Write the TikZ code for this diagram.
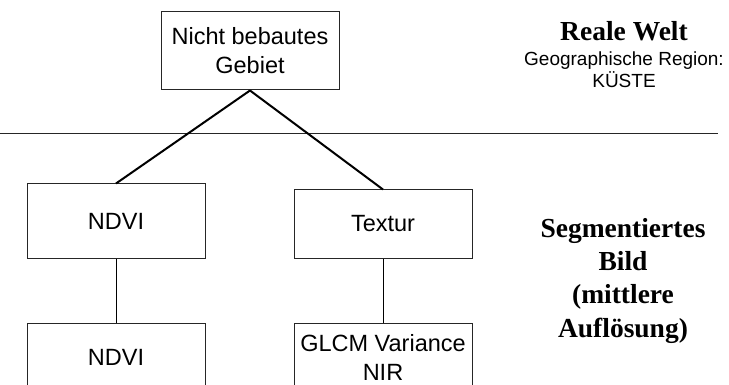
\documentclass[tikz,border=0pt]{standalone}
\usepackage{fontspec}
\setmainfont{Liberation Sans}
\newfontfamily\timesfont{Liberation Serif}
\begin{document}
\begin{tikzpicture}[x=1pt,y=-1pt,
  box/.style={draw=black!85, line width=1pt, minimum width=178pt, inner sep=0pt,
    align=center, font=\fontsize{23.5}{29}\selectfont},
  mainlink/.style={line width=2pt, black},
  sublink/.style={line width=1pt, black},
  sep/.style={line width=1pt, black!85},
  bigtitle/.style={anchor=base, inner sep=0pt, font=\timesfont\bfseries\fontsize{27.5}{33}\selectfont},
  smalllabel/.style={anchor=base, inner sep=0pt, font=\fontsize{19}{21}\selectfont}]
\useasboundingbox (0,0) rectangle (729,385);
\clip (0,0) rectangle (729,385);
\node[box, minimum height=78pt] (top) at (250,51) {Nicht bebautes\\Gebiet};
\node[box, minimum height=74pt] (ndvi1) at (116,221) {NDVI};
\node[box, minimum height=68pt] (textur) at (383,224) {Textur};
\node[box, minimum height=69pt] (ndvi2) at (116,357.5) {NDVI};
\node[box, minimum height=69pt] (glcm) at (383,357.5) {GLCM Variance\\NIR};
\coordinate (hl) at (0,134);
\coordinate (hr) at (718,134);
\draw[sep] (hl) -- (hr);
\draw[mainlink] (top.south) -- (ndvi1.north);
\draw[mainlink] (top.south) -- (textur.north);
\draw[sublink] (ndvi1.south) -- (ndvi2.north);
\draw[sublink] (textur.south) -- (glcm.north);
\node[bigtitle] (reale) at (624,41) {Reale Welt};
\node[smalllabel] (geo) at (624,66) {Geographische Region:};
\node[smalllabel] (kueste) at (624,88) {KÜSTE};
\node[bigtitle] (seg1) at (623,237) {Segmentiertes};
\node[bigtitle] (seg2) at (623,270) {Bild};
\node[bigtitle] (seg3) at (623,303) {(mittlere};
\node[bigtitle] (seg4) at (623,337) {Auflösung)};
\end{tikzpicture}
\end{document}
